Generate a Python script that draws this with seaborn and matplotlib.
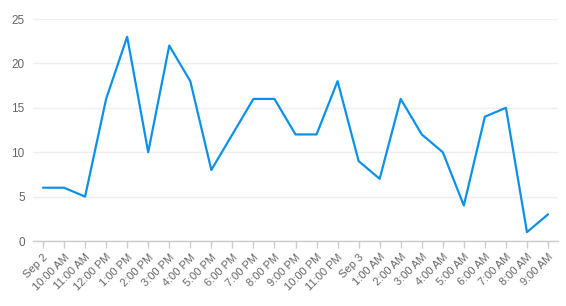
import matplotlib
matplotlib.use("Agg")
import matplotlib.pyplot as plt
import seaborn as sns
import pandas as pd

labels = ["Sep 2", "10:00 AM", "11:00 AM", "12:00 PM", "1:00 PM", "2:00 PM", "3:00 PM",
          "4:00 PM", "5:00 PM", "6:00 PM", "7:00 PM", "8:00 PM", "9:00 PM", "10:00 PM",
          "11:00 PM", "Sep 3", "1:00 AM", "2:00 AM", "3:00 AM", "4:00 AM", "5:00 AM",
          "6:00 AM", "7:00 AM", "8:00 AM", "9:00 AM"]
values = [6, 6, 5, 16, 23, 10, 22, 18, 8, 12, 16, 16, 12, 12, 18, 9, 7, 16, 12, 10, 4, 14, 15, 1, 3]
y_ticks = [0, 5, 10, 15, 20, 25]

df = pd.DataFrame({"idx": range(len(values)), "value": values})

sns.set_theme(style="white")
plt.rcParams["font.family"] = ["Liberation Sans", "DejaVu Sans"]

fig = plt.figure(figsize=(5.66, 3.06), dpi=100)
ax = fig.add_axes([33 / 566, (306 - 241) / 306, (558 - 33) / 566, (241 - 19) / 306])

sns.lineplot(data=df, x="idx", y="value", ax=ax, color="#0b92e8", linewidth=1.6)

ax.set_xlim(-0.475, len(values) - 1 + 0.475)
ax.set_ylim(0, 25)
ax.set_yticks(y_ticks)
ax.set_yticklabels([str(t) for t in y_ticks], fontsize=8.5, color="#666666")
ax.set_xticks(range(len(labels)))
ax.set_xticklabels(labels, rotation=45, ha="right", rotation_mode="anchor",
                   fontsize=8, color="#666666")
ax.set_xlabel("")
ax.set_ylabel("")

ax.grid(axis="y", color="#eeeeee", linewidth=1)
ax.grid(axis="x", visible=False)
for s in ["top", "right", "left"]:
    ax.spines[s].set_visible(False)
ax.spines["bottom"].set_color("#cccccc")
ax.spines["bottom"].set_linewidth(1)
ax.tick_params(axis="x", length=5, color="#cccccc", width=1, pad=3, bottom=True)
ax.tick_params(axis="y", length=0, pad=6)

fig.savefig("out.png", dpi=100, facecolor="white")
